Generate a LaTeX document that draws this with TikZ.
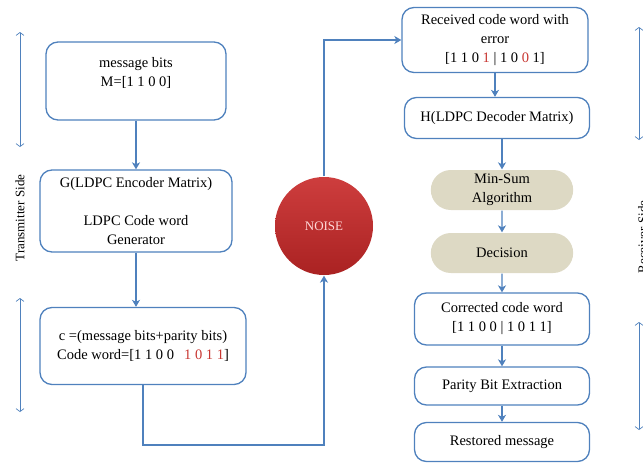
\documentclass[tikz,border=0pt]{standalone}
\usepackage{fontspec}
\setmainfont{Liberation Serif}
\usepackage{xcolor}
\usepackage{tikz}
\usetikzlibrary{arrows,arrows.meta,positioning,shapes}

\definecolor{boxblue}{RGB}{79,129,189}
\definecolor{dectan}{RGB}{221,217,196}
\definecolor{errred}{RGB}{200,55,50}
\definecolor{noisered}{RGB}{200,40,40}

\begin{document}
\begin{tikzpicture}[x=1pt,y=-1pt,line width=1.3pt]
  \tikzstyle{every node}=[font=\fontsize{14.5}{19}\selectfont]

  \edef\colwidth{175pt}
  \tikzstyle{stepblock}=[draw=boxblue,rounded corners=12pt,align=center,inner sep=2pt]
  \tikzstyle{decblock}=[rounded rectangle,fill=dectan,draw=none,align=center,minimum width=149pt,minimum height=40pt]
  \tikzstyle{flow}=[-{Stealth[length=7pt,width=8pt,inset=2pt]},draw=boxblue]
  \tikzstyle{sidearrow}=[{Straight Barb[length=3pt,width=8pt]}-{Straight Barb[length=3pt,width=8pt]},draw=boxblue,line width=0.7pt]
  \tikzstyle{sidetext}=[rotate=90,font=\fontsize{13}{15}\selectfont]

  \useasboundingbox (0,0) rectangle (643,463);

  % transmitter
  \node [stepblock,minimum width=180pt,minimum height=78pt] (msg) at (136,81)
    {message bits\\M=[1 1 0 0]\\\mbox{}};
  \node [stepblock,minimum width=192pt,minimum height=82pt] (genG) at (136,211)
    {G(LDPC Encoder Matrix)\\[19pt]LDPC Code word\\Generator};
  \node [stepblock,minimum width=206pt,minimum height=77pt] (cw) at (143,346)
    {c =(message bits+parity bits)\\Code word=[1 1 0 0\hspace{0.7em}\textcolor{errred}{1 0 1 1}]};

  % channel
  \node [circle,minimum size=98pt,top color=noisered!90!white,bottom color=noisered!85!black,
         text=white!85!red,font=\fontsize{13}{15}\selectfont] (noise) at (324,226) {NOISE};
  \coordinate (lowbend) at (324,445);

  % receiver
  \node [stepblock,minimum width=186pt,minimum height=65pt] (recv) at (495,40)
    {Received code word with\\error\\{}[1 1 0 \textcolor{errred}{1} | 1 0 \textcolor{errred}{0} 1]};
  \node [stepblock,minimum width=185pt,minimum height=41pt] (decH) at (497,118)
    {H(LDPC Decoder Matrix)};
  \node [decblock] (minsum) at (502,190) {Min-Sum\\Algorithm};
  \node [decblock] (decide) at (502,253) {Decision};
  \node [stepblock,minimum width=\colwidth,minimum height=52pt] (corr) at (502,319)
    {Corrected code word\\{}[1 1 0 0 | 1 0 1 1]};
  \node [stepblock,minimum width=\colwidth,minimum height=38pt] (parity) at (502,386)
    {Parity Bit Extraction};
  \node [stepblock,minimum width=\colwidth,minimum height=39pt] (restore) at (502,442)
    {Restored message};

  \draw [flow] (msg) -- (genG);
  \draw [flow] (genG.south) -- (genG.south |- cw.north);
  \draw [flow] (cw.south) |- (lowbend) -- (noise.south);
  \draw [flow] (noise.north) |- (recv.west);
  \draw [flow] (recv.south) -- (recv.south |- decH.north);
  \draw [flow] (minsum.north |- decH.south) -- (minsum.north);
  \draw [flow] (minsum) -- (decide);
  \draw [flow] (decide) -- (corr);
  \draw [flow] (corr) -- (parity);
  \draw [flow] (parity) -- (restore);

  % side marks
  \coordinate (txa) at (20,32);  \coordinate (txb) at (20,147);
  \coordinate (txc) at (20,298); \coordinate (txd) at (20,412);
  \coordinate (rxa) at (639,27);  \coordinate (rxb) at (639,140);
  \coordinate (rxc) at (639,322); \coordinate (rxd) at (639,430);
  \draw [sidearrow] (txa) -- (txb);
  \draw [sidearrow] (txc) -- (txd);
  \draw [sidearrow] (rxa) -- (rxb);
  \draw [sidearrow] (rxc) -- (rxd);
  \node [sidetext] (txside) at (20,218) {Transmitter Side};
  \node [sidetext,anchor=base] (rxside) at (647,237) {Receiver Side};
\end{tikzpicture}
\end{document}
